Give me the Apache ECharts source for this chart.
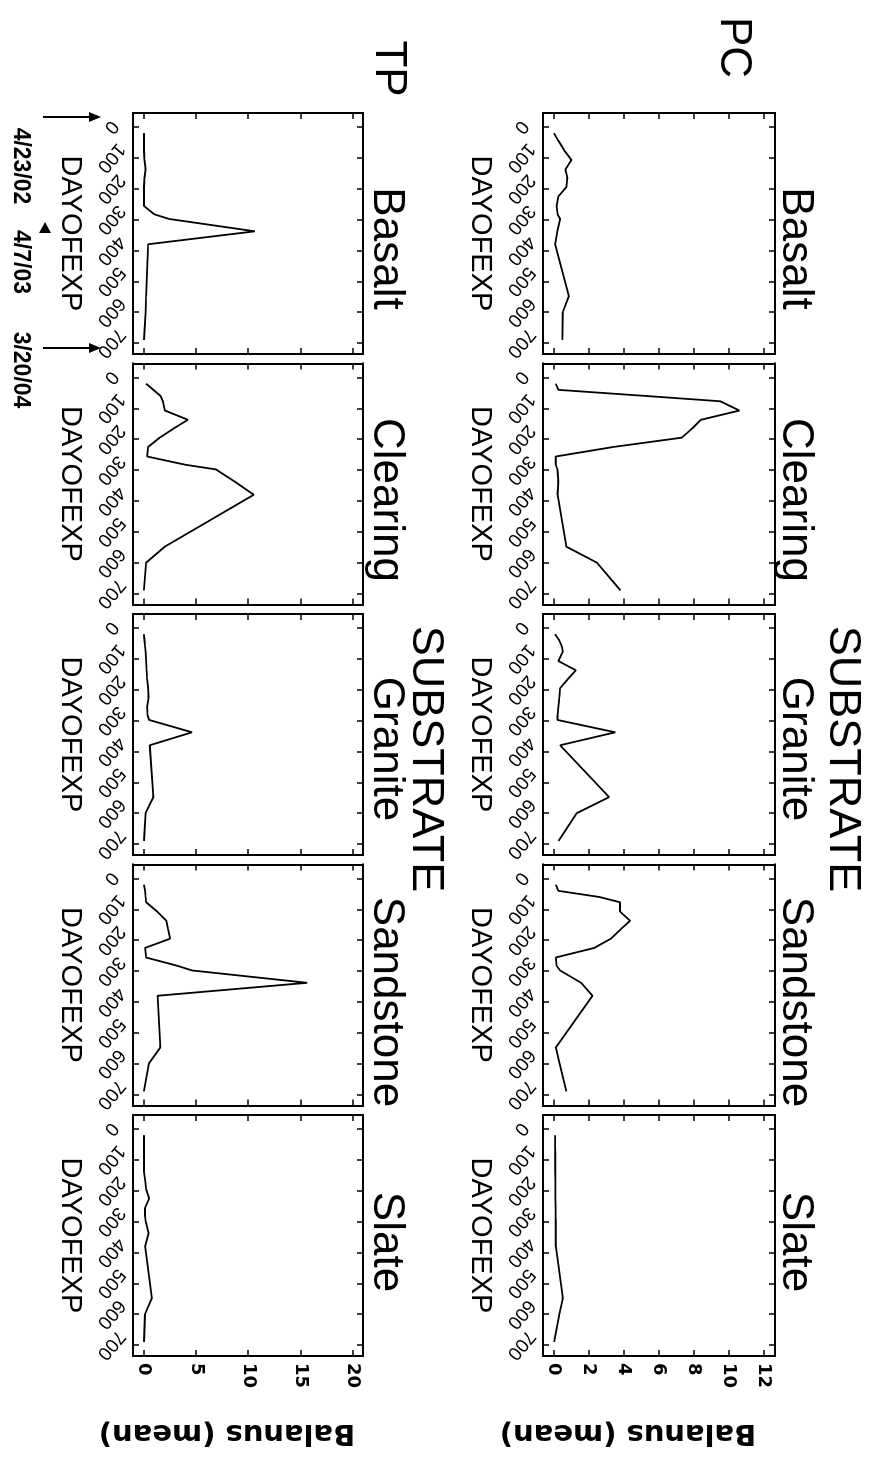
<!DOCTYPE html>
<html>
<head>
<meta charset="utf-8">
<title>Balanus by substrate</title>
<script src="https://cdn.jsdelivr.net/npm/echarts@6/dist/echarts.min.js"></script>
<style>
  html, body { margin: 0; padding: 0; background: #fff; width: 872px; height: 1459px; overflow: hidden; }
  /* the figure is laid out landscape and turned a quarter clockwise onto the portrait page */
  #chart { position: absolute; left: 0; top: 0; width: 1459px; height: 872px;
           transform-origin: 0 0; transform: translateX(872px) rotate(90deg); }
</style>
</head>
<body>
<div id="chart"></div>
<script>
// ---- data ----
const rowNames = ['PC', 'TP'];
const substrates = ['Basalt', 'Clearing', 'Granite', 'Sandstone', 'Slate'];
const days = [20, 40, 60, 77, 107, 137, 165, 195, 225, 256, 283, 298, 338, 380, 548, 600, 690];
const dayTicks = [0, 100, 200, 300, 400, 500, 600, 700];
const pcTicks = [0, 2, 4, 6, 8, 10, 12];
const tpTicks = [0, 5, 10, 15, 20];
const dateMarks = ['4/23/02', '4/7/03', '3/20/04'];

// mean Balanus count per sampling day, PC site
const pcBasalt    = [0.0, 0.2, 0.42, 0.6, 1.0, 0.65, 0.76, 0.7, 0.25, 0.15, 0.2, 0.35, 0.19, 0.06, 0.85, 0.5, 0.48];
const pcClearing  = [0.1, 0.25, 5.3, 9.5, 10.6, 8.4, 7.9, 7.3, 3.4, 0.1, 0.1, 0.2, 0.25, 0.2, 0.7, 2.45, 3.8];
const pcGranite   = [0.06, 0.3, 0.45, 0.5, 0.25, 1.25, 0.8, 0.35, 0.3, 0.25, 0.2, 0.2, 3.5, 0.35, 3.15, 1.3, 0.25];
const pcSandstone = [0.1, 0.25, 2.6, 3.77, 3.77, 4.35, 3.8, 3.25, 2.3, 0.1, 0.15, 0.35, 1.55, 2.2, 0.1, 0.32, 0.7];
const pcSlate     = [0.06, 0.06, 0.06, 0.07, 0.07, 0.07, 0.08, 0.08, 0.08, 0.09, 0.09, 0.1, 0.1, 0.1, 0.5, 0.31, 0.0];

// mean Balanus count per sampling day, TP site
const tpBasalt    = [0.0, 0.0, 0.0, 0.0, 0.05, 0.15, 0.05, 0.0, 0.0, 0.0, 1.0, 2.4, 10.6, 0.4, 0.2, 0.15, 0.0];
const tpClearing  = [0.2, 0.9, 1.6, 1.8, 2.0, 4.2, 2.85, 1.5, 0.4, 0.3, 4.0, 6.9, 8.7, 10.5, 2.0, 0.2, 0.0];
const tpGranite   = [0.0, 0.05, 0.1, 0.15, 0.2, 0.25, 0.3, 0.4, 0.45, 0.3, 0.35, 0.5, 4.6, 0.55, 0.9, 0.15, 0.0];
const tpSandstone = [0.0, 0.1, 0.15, 0.2, 1.25, 2.15, 2.3, 2.5, 0.1, 0.2, 3.2, 4.6, 15.6, 1.3, 1.56, 0.46, 0.0];
const tpSlate     = [0.0, 0.0, 0.0, 0.0, 0.0, 0.0, 0.1, 0.2, 0.5, 0.1, 0.1, 0.15, 0.45, 0.1, 0.75, 0.1, 0.0];

const panelValues = [
  [pcBasalt, pcClearing, pcGranite, pcSandstone, pcSlate],
  [tpBasalt, tpClearing, tpGranite, tpSandstone, tpSlate]
];
const rowTicks = [pcTicks, tpTicks];

// ---- layout (landscape coordinates) ----
const colLeft = [113, 363.5, 614, 864.5, 1115];
const colW = 241;
const rowTop = [97, 509];
const rowH = [232, 230];
const valueRange = [[-0.63, 12.63], [-1.05, 20.95]];
const dayRange = [-45.4, 735.6];
const stripShift = [135.5, 136.5, 135, 137.5, 127];
const stripY = [77, 486];

const SANS = '"Liberation Sans", Arial, sans-serif';
const WIDE = '"DejaVu Sans", sans-serif';

// every panel edge is an axis line carrying inward ticks
const frameLine = { show: true, onZero: false, lineStyle: { color: '#000', width: 2, cap: 'square' } };
const tickStyle = (vals) => ({
  show: true, inside: true, length: 6, customValues: vals,
  lineStyle: { color: '#000', width: 1.5 }
});

const grids = [], xAxes = [], yAxes = [], series = [];

rowNames.forEach((rowName, r) => {
  substrates.forEach((sub, c) => {
    const rect = { left: colLeft[c], top: rowTop[r], width: colW, height: rowH[r],
                   show: false, containLabel: false, outerBoundsMode: 'none' };
    const isLast = c === substrates.length - 1;

    // front layer: bottom day axis + left value axis, holds the series
    const gA = grids.length;
    grids.push(Object.assign({}, rect));
    xAxes.push({
      type: 'value', gridIndex: gA, position: 'bottom',
      min: dayRange[0], max: dayRange[1],
      axisLine: frameLine, splitLine: { show: false },
      axisTick: tickStyle(dayTicks),
      axisLabel: {
        show: true, customValues: dayTicks, rotate: -40, margin: 22,
        align: 'center', verticalAlign: 'middle',
        showMinLabel: true, showMaxLabel: true, hideOverlap: false,
        fontSize: 19, fontFamily: SANS, color: '#000'
      },
      name: 'DAYOFEXP', nameLocation: 'middle', nameGap: 48, nameMoveOverlap: false,
      nameTextStyle: { fontSize: 29, fontFamily: SANS, color: '#000' }
    });
    yAxes.push({
      type: 'value', gridIndex: gA, position: 'left',
      min: valueRange[r][0], max: valueRange[r][1],
      axisLine: frameLine, splitLine: { show: false },
      axisTick: tickStyle(rowTicks[r]),
      axisLabel: { show: false, customValues: rowTicks[r] }
    });
    series.push({
      type: 'line', name: rowName + ' ' + sub,
      xAxisIndex: gA, yAxisIndex: gA,
      data: days.map((d, i) => [d, panelValues[r][c][i]]),
      showSymbol: false, symbol: 'none', clip: true, silent: true,
      lineStyle: { color: '#000', width: 1.8 }
    });

    // same rectangle again: top day ticks + right value axis (labelled on the last column)
    const gB = grids.length;
    grids.push(Object.assign({}, rect));
    xAxes.push({
      type: 'value', gridIndex: gB, position: 'top',
      min: dayRange[0], max: dayRange[1],
      axisLine: frameLine, splitLine: { show: false },
      axisTick: tickStyle(dayTicks),
      axisLabel: { show: false, customValues: dayTicks }
    });
    yAxes.push({
      type: 'value', gridIndex: gB, position: 'right',
      min: valueRange[r][0], max: valueRange[r][1],
      axisLine: frameLine, splitLine: { show: false },
      axisTick: tickStyle(rowTicks[r]),
      axisLabel: {
        show: isLast, customValues: rowTicks[r], margin: 7,
        showMinLabel: true, showMaxLabel: true,
        fontSize: 18, fontWeight: 'bold', fontFamily: WIDE, color: '#000',
        padding: [12, 0, 0, 0]
      }
    });
  });
});

// ---- text and annotation elements ----
const txt = (text, x, y, font, extra) => Object.assign({
  type: 'text', x: x, y: y, silent: true,
  style: { text: text, font: font, fill: '#000',
           align: 'center', verticalAlign: 'middle',
           textAlign: 'center', textVerticalAlign: 'middle' }
}, extra || {});

const graphics = [];
rowNames.forEach((rowName, r) => {
  substrates.forEach((sub, c) => {
    graphics.push(txt(sub, colLeft[c] + stripShift[c], stripY[r], '44px ' + SANS));
  });
  graphics.push(txt('SUBSTRATE', 759, r === 0 ? 30 : 447, '45px ' + SANS));
  graphics.push(txt('Balanus (mean)', 1433, r === 0 ? 244 : 645, 'bold 29px ' + WIDE,
                    { rotation: -Math.PI / 2 }));
});
graphics.push(txt('PC', 47.5, 138.5, '44px ' + SANS));
graphics.push(txt('TP', 68.5, 483.5, '44px ' + SANS));

// experiment dates under the TP basalt panel
const dateX = [166, 262, 370];
dateMarks.forEach((d, i) => graphics.push(txt(d, dateX[i], 852, 'bold 23px ' + SANS)));

// arrows pointing at the first and last day labels
[117, 348].forEach(x => {
  graphics.push({ type: 'line', silent: true,
    shape: { x1: x, y1: 829, x2: x, y2: 780 },
    style: { stroke: '#000', lineWidth: 2 } });
  graphics.push({ type: 'polygon', silent: true,
    shape: { points: [[x, 771], [x - 5, 783], [x + 5, 783]] },
    style: { fill: '#000' } });
});
// marker at the mid-experiment date
graphics.push({ type: 'polygon', silent: true,
  shape: { points: [[222, 827], [233, 821], [233, 833]] },
  style: { fill: '#000' } });

const chart = echarts.init(document.getElementById('chart'), null, { renderer: 'canvas', width: 1459, height: 872 });
chart.setOption({
  animation: false,
  backgroundColor: '#fff',
  textStyle: { fontFamily: SANS },
  grid: grids,
  xAxis: xAxes,
  yAxis: yAxes,
  series: series,
  graphic: { elements: graphics }
});
</script>
</body>
</html>
